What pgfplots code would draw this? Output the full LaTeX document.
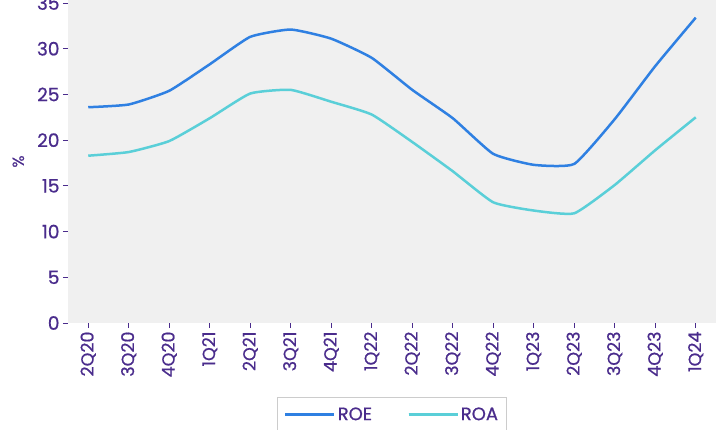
\documentclass[border=0pt]{standalone}
\usepackage{pgfplots}
\pgfplotsset{compat=1.18}
\usepackage{fontspec}
\setmainfont{Poppins}[FakeBold=0.7]
\definecolor{txt}{HTML}{4A2C8C}
\definecolor{roe}{HTML}{2F80E2}
\definecolor{roa}{HTML}{5ACFD8}
\definecolor{bg}{HTML}{F0F0F0}
\begin{document}
\begin{tikzpicture}[x=1pt,y=1pt]
\useasboundingbox (0,0) rectangle (725,429);
\begin{axis}[
  at={(68pt,106pt)}, anchor=south west,
  scale only axis, width=648pt, height=323pt,
  xmin=-0.5, xmax=15.5, ymin=0, ymax=35.33,
  axis background/.style={fill=bg},
  axis line style={draw=none},
  xtick={0,...,15},
  xticklabels={2Q20,3Q20,4Q20,1Q21,2Q21,3Q21,4Q21,1Q22,2Q22,3Q22,4Q22,1Q23,2Q23,3Q23,4Q23,1Q24},
  ytick={0,5,...,35},
  xtick pos=bottom, ytick pos=left,
  tick align=outside,
  major tick length=5pt,
  tick style={txt, line width=1pt},
  x tick label style={rotate=90, anchor=east, font=\fontsize{17.5}{17.5}\selectfont, text=txt},
  y tick label style={font=\fontsize{18.5}{18.5}\selectfont, text=txt},
  /pgf/number format/assume math mode=true,
  ylabel={\%},
  ylabel style={font=\fontsize{16}{16}\selectfont, text=txt, yshift=6pt},
  legend columns=2,
  legend style={at={(0.5,-0.229)}, anchor=north, draw=gray!40, line width=1pt,
    font=\fontsize{18}{18}\selectfont, text=txt,
    /tikz/every even column/.append style={column sep=33pt},
    inner xsep=6pt, inner ysep=8pt},
  legend cell align=left,
  legend image code/.code={\draw[#1, line width=3pt] (0pt,0pt) -- (40pt,0pt); \path (0pt,0pt) -- (49pt,0pt);},
]
\addplot[roe, line width=2.5pt, smooth, tension=0.28] coordinates {
(0,23.6) (1,23.9) (2,25.4) (3,28.3) (4,31.3) (5,32.1) (6,31.1) (7,29.0)
(8,25.5) (9,22.4) (10,18.5) (11,17.3) (12,17.4) (13,22.3) (14,28.1) (15,33.4)};
\addlegendentry{ROE}
\addplot[roa, line width=2.5pt, smooth, tension=0.28] coordinates {
(0,18.3) (1,18.7) (2,19.9) (3,22.4) (4,25.1) (5,25.5) (6,24.2) (7,22.8)
(8,19.8) (9,16.6) (10,13.2) (11,12.3) (12,12.0) (13,15.1) (14,18.9) (15,22.5)};
\addlegendentry{ROA}
\end{axis}
\end{tikzpicture}
\end{document}
